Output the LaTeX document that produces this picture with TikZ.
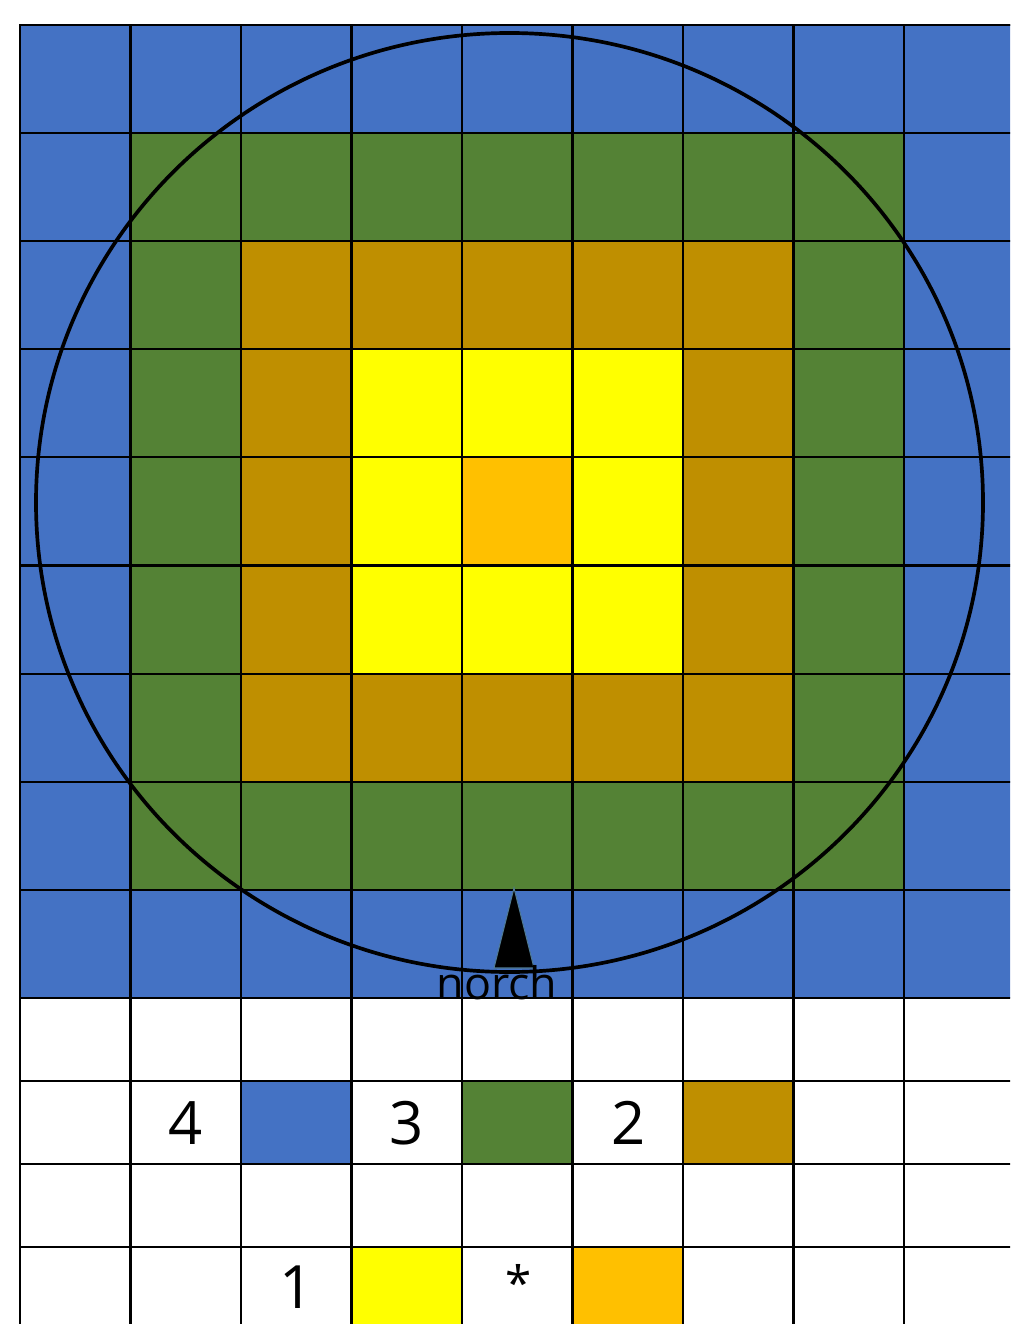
\documentclass[tikz,border=0pt]{standalone}
\usepackage{fontspec}
\setmainfont{Open Sans}
\usepackage{xcolor}
\usepackage{tikz}
\usetikzlibrary{positioning}

\definecolor{ring0}{HTML}{FFC000}
\definecolor{ring1}{HTML}{FFFF00}
\definecolor{ring2}{HTML}{BF8F00}
\definecolor{ring3}{HTML}{548235}
\definecolor{ring4}{HTML}{4472C4}
\definecolor{notchedge}{HTML}{4F7A94}

\tikzset{
  gridline/.style={line width=1.2pt, black},
  border/.style={line width=1.7pt, black},
  digit/.style={inner sep=0pt, font=\fontsize{34}{34}\selectfont},
  notchlabel/.style={inner sep=0pt, font=\fontsize{25.5}{25.5}\selectfont}
}

\begin{document}
\begin{tikzpicture}[x=0.02cm, y=-0.02cm]
  \useasboundingbox (0,0) rectangle (1010,1324);
  \clip (0,0) rectangle (1010,1324);
  % rings of the wafer map
  \foreach \i in {0,...,8}{
    \foreach \j in {0,...,8}{
      \pgfmathtruncatemacro{\r}{max(abs(\i-4),abs(\j-4))}
      \fill[ring\r] (20+110.5*\i, 25+108.1*\j) rectangle ++(110.5,108.1);
    }
  }
  % legend swatches
  \fill[ring4] (241,1081) rectangle ++(110.5,83);
  \fill[ring3] (462,1081) rectangle ++(110.5,83);
  \fill[ring2] (683,1081) rectangle ++(110.5,83);
  \fill[ring1] (351.5,1247) rectangle ++(110.5,83);
  \fill[ring0] (572.5,1247) rectangle ++(110.5,83);
  % grid
  \foreach \i in {0,...,9}
    \draw[gridline] (20+110.5*\i,25) -- (20+110.5*\i,1330);
  \foreach \j in {0,...,9}
    \draw[gridline] (20,25+108.1*\j) -- (1020,25+108.1*\j);
  \foreach \k in {1,...,3}
    \draw[gridline] (20,998+83*\k) -- (1020,998+83*\k);
  \draw[border] (20,1330) -- (20,25) -- (1020,25);
  % wafer outline
  \draw[line width=2.1pt] (509.5,502.5) ellipse [x radius=473.5, y radius=469.5];
  % notch
  \coordinate (tip) at (514,888);
  \fill[black, draw=notchedge, line width=0.6pt]
    (tip) -- (534,968) -- (494,968) -- cycle;
  \node[notchlabel] (norch) at (497,983) {norch};
  % legend
  \node[digit] (lab4) at (186,1123) {4};
  \node[digit] (lab3) at (407,1123) {3};
  \node[digit] (lab2) at (629,1123) {2};
  \node[digit] (lab1) at (297,1287) {1};
  \node[digit, font=\fontsize{27}{27}\selectfont] (star) at (519,1282) {*};
\end{tikzpicture}
\end{document}
